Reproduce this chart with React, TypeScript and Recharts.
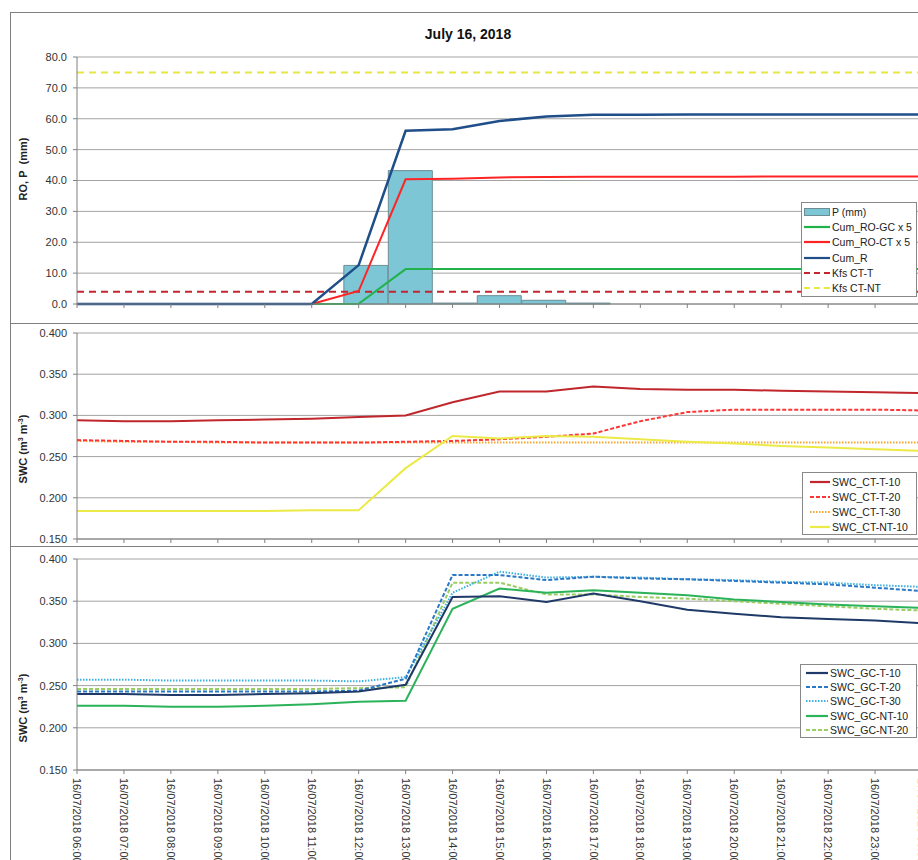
import React from 'react';
import { ComposedChart, LineChart, Line, Bar, XAxis, YAxis, CartesianGrid, ReferenceLine } from 'recharts';

// ---------- DATA ----------
const timeLabels = [
  '16/07/2018 06:00', '16/07/2018 07:00', '16/07/2018 08:00', '16/07/2018 09:00', '16/07/2018 10:00',
  '16/07/2018 11:00', '16/07/2018 12:00', '16/07/2018 13:00', '16/07/2018 14:00', '16/07/2018 15:00',
  '16/07/2018 16:00', '16/07/2018 17:00', '16/07/2018 18:00', '16/07/2018 19:00', '16/07/2018 20:00',
  '16/07/2018 21:00', '16/07/2018 22:00', '16/07/2018 23:00', '17/07/2018 00:00',
];

// top panel (mm)
const precipP = [0, 0, 0, 0, 0, 0, 12.5, 43.2, 0.3, 2.7, 1.2, 0.3, 0, 0, 0, 0, 0, 0, 0];
const cumROGCx5 = [0, 0, 0, 0, 0, 0, 0.1, 11.3, 11.3, 11.3, 11.3, 11.3, 11.3, 11.3, 11.3, 11.3, 11.3, 11.3, 11.3];
const cumROCTx5 = [0, 0, 0, 0, 0, 0, 4.2, 40.4, 40.6, 41.0, 41.1, 41.2, 41.2, 41.2, 41.2, 41.3, 41.3, 41.3, 41.3];
const cumR = [0, 0, 0, 0, 0, 0, 12.6, 56.1, 56.6, 59.3, 60.7, 61.3, 61.3, 61.4, 61.4, 61.4, 61.4, 61.4, 61.4];
const kfsCTT = 4.0;
const kfsCTNT = 75.0;
const topTicks = [0, 10, 20, 30, 40, 50, 60, 70, 80];

// middle panel (SWC, CT)
const swcCTT10 = [0.294, 0.293, 0.293, 0.294, 0.295, 0.296, 0.298, 0.300, 0.316, 0.329, 0.329, 0.335, 0.332, 0.331, 0.331, 0.330, 0.329, 0.328, 0.327];
const swcCTT20 = [0.270, 0.269, 0.268, 0.268, 0.267, 0.267, 0.267, 0.268, 0.269, 0.271, 0.274, 0.278, 0.293, 0.304, 0.307, 0.307, 0.307, 0.307, 0.306];
const swcCTT30 = [0.269, 0.268, 0.268, 0.267, 0.267, 0.267, 0.267, 0.267, 0.267, 0.267, 0.267, 0.267, 0.267, 0.267, 0.267, 0.267, 0.267, 0.267, 0.267];
const swcCTNT10 = [0.184, 0.184, 0.184, 0.184, 0.184, 0.185, 0.185, 0.236, 0.275, 0.272, 0.275, 0.274, 0.271, 0.268, 0.266, 0.263, 0.261, 0.259, 0.257];

// bottom panel (SWC, GC)
const swcGCT10 = [0.240, 0.240, 0.239, 0.239, 0.240, 0.241, 0.243, 0.251, 0.355, 0.356, 0.349, 0.359, 0.350, 0.340, 0.335, 0.331, 0.329, 0.327, 0.324];
const swcGCT20 = [0.243, 0.243, 0.243, 0.243, 0.243, 0.243, 0.244, 0.258, 0.381, 0.381, 0.375, 0.379, 0.377, 0.376, 0.374, 0.372, 0.370, 0.366, 0.362];
const swcGCT30 = [0.257, 0.257, 0.256, 0.256, 0.256, 0.256, 0.255, 0.260, 0.360, 0.385, 0.378, 0.379, 0.378, 0.376, 0.375, 0.373, 0.372, 0.369, 0.367];
const swcGCNT10 = [0.226, 0.226, 0.225, 0.225, 0.226, 0.228, 0.231, 0.232, 0.341, 0.365, 0.360, 0.363, 0.360, 0.357, 0.352, 0.349, 0.346, 0.344, 0.342];
const swcGCNT20 = [0.246, 0.246, 0.246, 0.246, 0.246, 0.246, 0.247, 0.248, 0.372, 0.372, 0.358, 0.358, 0.355, 0.353, 0.350, 0.347, 0.344, 0.341, 0.339];
const swcTicks = [0.15, 0.2, 0.25, 0.3, 0.35, 0.4];

// ---------- STYLE ----------
const FONT = '"Liberation Sans", Arial, Helvetica, sans-serif';
const AXIS = '#808080';
const GRID = '#a3a3a3';
const C = {
  bar: '#7cc6d6', barStroke: '#6d8d93',
  gc: '#22b24c', ct: '#ff2424', r: '#1f4e89', kfsT: '#c3262e', kfsNT: '#e9e83c',
  ct10: '#c0272d', ct20: '#ff3535', ct30: '#f2a634', nt10: '#ebea46',
  gt10: '#1f3a68', gt20: '#2a78c6', gt30: '#3cb0e0', gn10: '#2bb35a', gn20: '#9acd62',
};

const topRows = timeLabels.map((t, i) => ({ t, P: precipP[i], gc: cumROGCx5[i], ct: cumROCTx5[i], r: cumR[i] }));
const midRows = timeLabels.map((t, i) => ({ t, a: swcCTT10[i], b: swcCTT20[i], c: swcCTT30[i], d: swcCTNT10[i] }));
const botRows = timeLabels.map((t, i) => ({ t, a: swcGCT10[i], b: swcGCT20[i], c: swcGCT30[i], d: swcGCNT10[i], e: swcGCNT20[i] }));

const CW = 940;
const tickStyle = { fontSize: 11, fill: '#333', fontFamily: FONT };

const RotTick = (props: any) => {
  const { x, y, payload } = props;
  return (
    <g transform={`translate(${x},${y + 2})`}>
      <text transform="rotate(90)" x={0} y={0} dy="0.35em" textAnchor="start" fontSize={11} fill="#333" fontFamily={FONT}>
        {payload.value}
      </text>
    </g>
  );
};

type LItem = { label: string; color: string; kind: 'line' | 'bar'; dash?: string };

const LegendBox = ({ left, top, width, height, items, swW, rowH, padTop, swLeft }: any) => (
  <div style={{ position: 'absolute', left, top, width, height, border: '1px solid #888', background: '#fff', boxSizing: 'border-box' }}>
    {(items as LItem[]).map((it, i) => (
      <div key={i} style={{ position: 'absolute', left: swLeft, top: padTop + i * rowH, height: rowH, display: 'flex', alignItems: 'center', whiteSpace: 'nowrap' }}>
        <svg width={swW} height={10} style={{ display: 'block' }}>
          {it.kind === 'bar' ? (
            <rect x={0.5} y={1.5} width={swW - 1} height={7} fill={C.bar} stroke={C.barStroke} />
          ) : (
            <line x1={0} y1={5} x2={swW} y2={5} stroke={it.color} strokeWidth={2.2} strokeDasharray={it.dash} />
          )}
        </svg>
        <span style={{ fontSize: 10.5, color: '#222', fontFamily: FONT, marginLeft: 2 }}>{it.label}</span>
      </div>
    ))}
  </div>
);

const topLegend: LItem[] = [
  { label: 'P (mm)', color: C.bar, kind: 'bar' },
  { label: 'Cum_RO-GC x 5', color: C.gc, kind: 'line' },
  { label: 'Cum_RO-CT x 5', color: C.ct, kind: 'line' },
  { label: 'Cum_R', color: C.r, kind: 'line' },
  { label: 'Kfs CT-T', color: C.kfsT, kind: 'line', dash: '6 4' },
  { label: 'Kfs CT-NT', color: C.kfsNT, kind: 'line', dash: '6 4' },
];
const midLegend: LItem[] = [
  { label: 'SWC_CT-T-10', color: C.ct10, kind: 'line' },
  { label: 'SWC_CT-T-20', color: C.ct20, kind: 'line', dash: '4 2' },
  { label: 'SWC_CT-T-30', color: C.ct30, kind: 'line', dash: '1.5 1.5' },
  { label: 'SWC_CT-NT-10', color: C.nt10, kind: 'line' },
];
const botLegend: LItem[] = [
  { label: 'SWC_GC-T-10', color: C.gt10, kind: 'line' },
  { label: 'SWC_GC-T-20', color: C.gt20, kind: 'line', dash: '4 2' },
  { label: 'SWC_GC-T-30', color: C.gt30, kind: 'line', dash: '1.5 1.5' },
  { label: 'SWC_GC-NT-10', color: C.gn10, kind: 'line' },
  { label: 'SWC_GC-NT-20', color: C.gn20, kind: 'line', dash: '4 2' },
];

const YLabel = ({ top, children }: any) => (
  <div style={{ position: 'absolute', left: 23, top, width: 0, height: 0 }}>
    <div style={{ position: 'absolute', transform: 'translate(-50%,-50%) rotate(-90deg)', whiteSpace: 'nowrap', fontWeight: 'bold', fontSize: 11, fontFamily: FONT, color: '#222' }}>
      {children}
    </div>
  </div>
);

const hLine = (top: number) => (
  <div style={{ position: 'absolute', left: 10, top, width: 930, height: 1, background: '#7f7f7f' }} />
);

export default function App() {
  return (
    <div style={{ position: 'absolute', left: 0, top: 0, width: 918, height: 860, overflow: 'hidden', background: '#fff', fontFamily: FONT }}>
      {/* frame */}
      {hLine(12)}
      {hLine(323)}
      {hLine(546)}
      <div style={{ position: 'absolute', left: 10, top: 12, width: 1, height: 860, background: '#7f7f7f' }} />

      <div style={{ position: 'absolute', left: 0, top: 26, width: 936, textAlign: 'center', fontWeight: 'bold', fontSize: 14, fontFamily: FONT, color: '#111' }}>
        July 16, 2018
      </div>

      {/* TOP */}
      <div style={{ position: 'absolute', left: 0, top: 0 }}>
        <ComposedChart width={CW} height={320} data={topRows} margin={{ top: 57, right: 18, bottom: 6, left: 10 }} barCategoryGap={0}>
          <CartesianGrid vertical={false} stroke={GRID} />
          <XAxis dataKey="t" scale="point" interval={0} height={10} tickSize={4} tickFormatter={() => ''} stroke={AXIS} />
          <XAxis dataKey="t" xAxisId="band" hide />
          <YAxis domain={[0, 80]} ticks={topTicks} interval={0} width={67} tickSize={4} tickMargin={6}
            tickFormatter={(v: number) => v.toFixed(1)} tick={tickStyle} stroke={AXIS} />
          <Bar dataKey="P" xAxisId="band" fill={C.bar} stroke={C.barStroke} strokeWidth={1} isAnimationActive={false} />
          <ReferenceLine y={kfsCTNT} stroke={C.kfsNT} strokeWidth={2} strokeDasharray="7 5" />
          <ReferenceLine y={kfsCTT} stroke={C.kfsT} strokeWidth={2} strokeDasharray="7 5" />
          <Line dataKey="gc" stroke={C.gc} strokeWidth={2} dot={false} isAnimationActive={false} />
          <Line dataKey="ct" stroke={C.ct} strokeWidth={2} dot={false} isAnimationActive={false} />
          <Line dataKey="r" stroke={C.r} strokeWidth={2.5} dot={false} isAnimationActive={false} />
        </ComposedChart>
      </div>

      {/* MIDDLE */}
      <div style={{ position: 'absolute', left: 0, top: 320 }}>
        <LineChart width={CW} height={232} data={midRows} margin={{ top: 13, right: 18, bottom: 3, left: 10 }}>
          <CartesianGrid vertical={false} stroke={GRID} />
          <XAxis dataKey="t" scale="point" interval={0} height={10} tickSize={4} tickFormatter={() => ''} stroke={AXIS} />
          <YAxis domain={[0.15, 0.4]} ticks={swcTicks} interval={0} width={67} tickSize={4} tickMargin={6}
            tickFormatter={(v: number) => v.toFixed(3)} tick={tickStyle} stroke={AXIS} />
          <Line dataKey="c" stroke={C.ct30} strokeWidth={2} strokeDasharray="1.5 1.5" dot={false} isAnimationActive={false} />
          <Line dataKey="b" stroke={C.ct20} strokeWidth={2} strokeDasharray="4 2" dot={false} isAnimationActive={false} />
          <Line dataKey="d" stroke={C.nt10} strokeWidth={2} dot={false} isAnimationActive={false} />
          <Line dataKey="a" stroke={C.ct10} strokeWidth={2} dot={false} isAnimationActive={false} />
        </LineChart>
      </div>

      {/* BOTTOM */}
      <div style={{ position: 'absolute', left: 0, top: 545 }}>
        <LineChart width={CW} height={325} data={botRows} margin={{ top: 14, right: 18, bottom: 0, left: 10 }}>
          <CartesianGrid vertical={false} stroke={GRID} />
          <XAxis dataKey="t" scale="point" interval={0} height={100} tickSize={4} tick={<RotTick />} stroke={AXIS} />
          <YAxis domain={[0.15, 0.4]} ticks={swcTicks} interval={0} width={67} tickSize={4} tickMargin={6}
            tickFormatter={(v: number) => v.toFixed(3)} tick={tickStyle} stroke={AXIS} />
          <Line dataKey="e" stroke={C.gn20} strokeWidth={2} strokeDasharray="4 2" dot={false} isAnimationActive={false} />
          <Line dataKey="d" stroke={C.gn10} strokeWidth={2} dot={false} isAnimationActive={false} />
          <Line dataKey="c" stroke={C.gt30} strokeWidth={2} strokeDasharray="1.5 1.5" dot={false} isAnimationActive={false} />
          <Line dataKey="b" stroke={C.gt20} strokeWidth={2} strokeDasharray="4 2" dot={false} isAnimationActive={false} />
          <Line dataKey="a" stroke={C.gt10} strokeWidth={2} dot={false} isAnimationActive={false} />
        </LineChart>
      </div>

      {/* axis titles */}
      <YLabel top={169}>RO, P&nbsp;&nbsp;(mm)</YLabel>
      <YLabel top={449}>SWC (m<sup style={{ fontSize: 7 }}>3</sup> m<sup style={{ fontSize: 7 }}>-3</sup>)</YLabel>
      <YLabel top={708}>SWC (m<sup style={{ fontSize: 7 }}>3</sup> m<sup style={{ fontSize: 7 }}>-3</sup>)</YLabel>

      {/* legends */}
      <LegendBox left={801} top={202} width={116} height={95} items={topLegend} swW={26} rowH={15.3} padTop={1} swLeft={2} />
      <LegendBox left={802} top={472} width={115} height={63} items={midLegend} swW={20} rowH={15} padTop={1} swLeft={7} />
      <LegendBox left={800} top={664} width={117} height={74} items={botLegend} swW={22} rowH={14.2} padTop={1} swLeft={5} />
    </div>
  );
}
